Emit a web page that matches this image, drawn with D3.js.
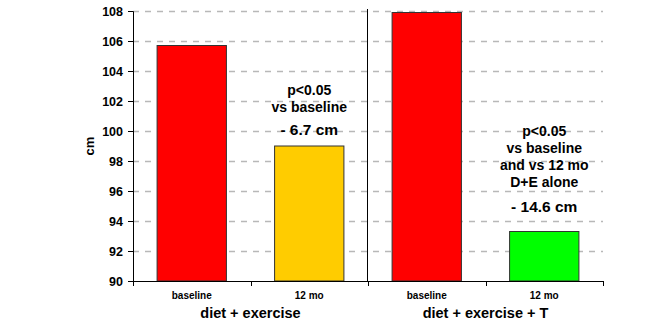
<!DOCTYPE html>
<html><head><meta charset="utf-8">
<script src="https://cdn.jsdelivr.net/npm/d3@7"></script>
<style>body{margin:0;background:#fff}svg{display:block}text{font-family:"Liberation Sans",Arial,sans-serif;font-weight:bold;fill:#000}</style>
</head><body><svg id="c" width="669" height="325"></svg>
<script>
const categories = ["baseline","12 mo","baseline","12 mo"];
const slotIds = ["g1b","g1m","g2b","g2m"];
const values = [105.7, 99.0, 107.9, 93.3];
const colors = ["#FF0000","#FFCC00","#FF0000","#00FF00"];
const groups = ["diet + exercise","diet + exercise + T"];
const yTicks = [90,92,94,96,98,100,102,104,106,108];
const note1 = ["p<0.05","vs baseline"];
const change1 = "- 6.7 cm";
const note2 = ["p<0.05","vs baseline","and vs 12 mo","D+E alone"];
const change2 = "- 14.6 cm";

const svg = d3.select("#c");
const x0 = 133, x1 = 603, yTop = 11, yBot = 281;
const x = d3.scaleBand().domain(slotIds).range([x0,x1]).paddingInner(0.41).paddingOuter(0.205);
const y = d3.scaleLinear().domain([90,108]).range([yBot,yTop]);

// grid
svg.append("g").selectAll("line").data(yTicks.filter(t=>t>90)).join("line")
  .attr("x1",x0).attr("x2",x1).attr("y1",d=>y(d)+0.5).attr("y2",d=>y(d)+0.5)
  .attr("stroke","#b8b8b8").attr("stroke-width",1.3).attr("stroke-dasharray","6,6");

// bars
svg.append("g").selectAll("rect").data(values).join("rect")
  .attr("x",(d,i)=>x(slotIds[i])).attr("width",x.bandwidth())
  .attr("y",d=>y(d)).attr("height",d=>yBot-y(d))
  .attr("fill",(d,i)=>colors[i]).attr("stroke","#333").attr("stroke-width",1);

// y axis
const ya = svg.append("g").attr("transform",`translate(${x0},0)`)
  .call(d3.axisLeft(y).tickValues(yTicks).tickSize(5).tickPadding(5));
ya.select(".domain").attr("stroke","#000");
ya.selectAll("line").attr("stroke","#000");
ya.selectAll("text").style("font-size","12.5px").style("font-weight","bold").style("font-family","Liberation Sans, Arial, sans-serif").attr("fill","#000");

// x axis line & ticks
const step = (x1-x0)/4;
svg.append("line").attr("x1",x0).attr("x2",x1).attr("y1",yBot+0.5).attr("y2",yBot+0.5).attr("stroke","#000");
svg.append("g").selectAll("line").data(d3.range(5)).join("line")
  .attr("x1",i=>Math.round(x0+i*step)+0.5).attr("x2",i=>Math.round(x0+i*step)+0.5).attr("y1",yBot).attr("y2",yBot+5).attr("stroke","#000");
// divider
svg.append("line").attr("x1",Math.round(x0+2*step)-0.5).attr("x2",Math.round(x0+2*step)-0.5).attr("y1",9).attr("y2",yBot).attr("stroke","#000");

// category labels
svg.append("g").selectAll("text").data(categories).join("text")
  .attr("x",(d,i)=>x(slotIds[i])+x.bandwidth()/2).attr("y",299)
  .attr("text-anchor","middle").style("font-size","10px").text(d=>d);
svg.append("g").selectAll("text").data(groups).join("text")
  .attr("x",(d,i)=>x0+step*(2*i+1)).attr("y",318)
  .attr("text-anchor","middle").style("font-size","14.5px").text(d=>d);

// y label
svg.append("text").attr("transform","translate(94,146) rotate(-90)")
  .attr("text-anchor","middle").style("font-size","13px").text("cm");

// annotations
const cx1 = x("g1m")+x.bandwidth()/2, cx2 = x("g2m")+x.bandwidth()/2;
svg.append("g").selectAll("text").data(note1).join("text")
  .attr("x",cx1).attr("y",(d,i)=>95+i*16.5).attr("text-anchor","middle").style("font-size","14px").text(d=>d);
svg.append("text").attr("x",cx1).attr("y",135).attr("text-anchor","middle").style("font-size","15.5px").text(change1);
svg.append("g").selectAll("text").data(note2).join("text")
  .attr("x",cx2).attr("y",(d,i)=>136+i*16.9).attr("text-anchor","middle").style("font-size","14px").text(d=>d);
svg.append("text").attr("x",cx2).attr("y",212).attr("text-anchor","middle").style("font-size","15.5px").text(change2);
</script></body></html>
